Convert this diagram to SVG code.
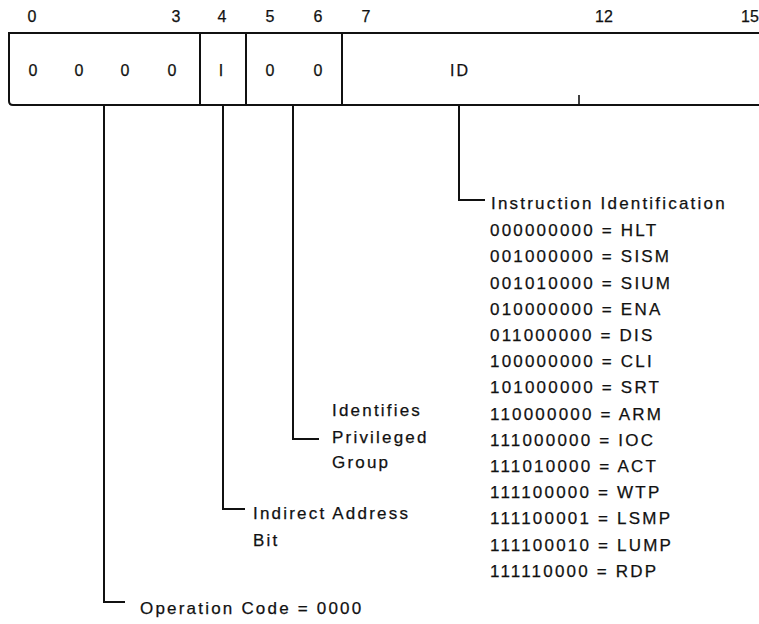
<svg xmlns="http://www.w3.org/2000/svg" width="759" height="624" viewBox="0 0 759 624">
<style>
text{font-family:"Liberation Sans",Arial,sans-serif;fill:#111;stroke:#111;stroke-width:0.25;}
.hd{font-size:16px;text-anchor:middle;}
.cell{font-size:16px;text-anchor:middle;}
.lb{font-size:17px;letter-spacing:2.2px;}
.ln{fill:none;stroke:#111;stroke-width:2;}
.thin{fill:none;stroke:#111;stroke-width:1.6;}
</style>
<rect width="759" height="624" fill="#fff"/>
<g id="bit-numbers">
<text class="hd" x="32" y="22">0</text>
<text class="hd" x="176" y="22">3</text>
<text class="hd" x="222" y="22">4</text>
<text class="hd" x="270" y="22">5</text>
<text class="hd" x="318" y="22">6</text>
<text class="hd" x="366" y="22">7</text>
<text class="hd" x="604" y="22">12</text>
<text class="hd" x="750" y="22">15</text>
</g>
<g id="register">
<path class="ln" d="M759,33 L9,33 L9,101 Q9,105 13,105 L759,105"/>
<line class="ln" x1="200" y1="33" x2="200" y2="105"/>
<line class="ln" x1="246" y1="33" x2="246" y2="105"/>
<line class="ln" x1="342" y1="33" x2="342" y2="105"/>
<line class="thin" x1="579" y1="95" x2="579" y2="105"/>
<text class="cell" x="33" y="76">0</text>
<text class="cell" x="79" y="76">0</text>
<text class="cell" x="125" y="76">0</text>
<text class="cell" x="172" y="76">0</text>
<text class="cell" x="221" y="76">I</text>
<text class="cell" x="270" y="76">0</text>
<text class="cell" x="318" y="76">0</text>
<text class="cell" x="460" y="76" style="letter-spacing:2px">ID</text>
</g>
<g id="connectors">
<path class="ln" d="M104,105 L104,602 L125,602"/>
<path class="ln" d="M223,105 L223,509 L245,509"/>
<path class="ln" d="M293,105 L293,439 L319,439"/>
<path class="ln" d="M459,105 L459,200 L485,200"/>
</g>
<g id="label-opcode">
<text class="lb" x="140" y="614">Operation Code = 0000</text>
</g>
<g id="label-indirect">
<text class="lb" x="253" y="519">Indirect Address</text>
<text class="lb" x="253" y="546">Bit</text>
</g>
<g id="label-privileged">
<text class="lb" x="332" y="416">Identifies</text>
<text class="lb" x="332" y="443">Privileged</text>
<text class="lb" x="332" y="468">Group</text>
</g>
<g id="label-instruction">
<text class="lb" x="491" y="209">Instruction Identification</text>
<text class="lb" x="490" y="236">000000000 = HLT</text>
<text class="lb" x="490" y="262">001000000 = SISM</text>
<text class="lb" x="490" y="289">001010000 = SIUM</text>
<text class="lb" x="490" y="315">010000000 = ENA</text>
<text class="lb" x="490" y="341">011000000 = DIS</text>
<text class="lb" x="490" y="367">100000000 = CLI</text>
<text class="lb" x="490" y="393">101000000 = SRT</text>
<text class="lb" x="490" y="420">110000000 = ARM</text>
<text class="lb" x="490" y="446">111000000 = IOC</text>
<text class="lb" x="490" y="472">111010000 = ACT</text>
<text class="lb" x="490" y="498">111100000 = WTP</text>
<text class="lb" x="490" y="524">111100001 = LSMP</text>
<text class="lb" x="490" y="551">111100010 = LUMP</text>
<text class="lb" x="490" y="577">111110000 = RDP</text>
</g>
</svg>
